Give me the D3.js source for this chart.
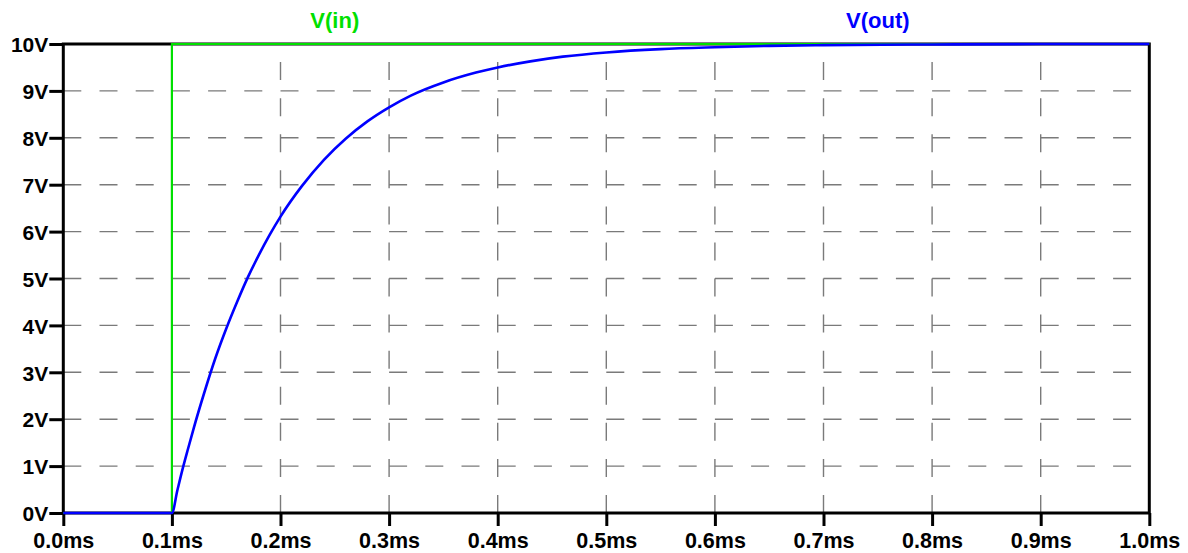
<!DOCTYPE html>
<html>
<head>
<meta charset="utf-8">
<script src="https://cdn.jsdelivr.net/npm/d3@7"></script>
<style>
  html, body { margin: 0; padding: 0; background: #fff; }
  svg { display: block; }
  text { font-family: "Liberation Sans", Arial, sans-serif; font-weight: bold; }
</style>
</head>
<body>
<svg id="chart" width="1188" height="553"></svg>
<script>
// ---- data ----
const xTicks = [0, 0.1, 0.2, 0.3, 0.4, 0.5, 0.6, 0.7, 0.8, 0.9, 1.0];
const yTicks = [0, 1, 2, 3, 4, 5, 6, 7, 8, 9, 10];
const seriesNames = ["V(in)", "V(out)"];
// V(in): step input (time in ms, volts)
const vinTime = [0, 0.1, 0.1, 1.0];
const vinVolt = [0, 0, 10, 10];
// V(out): RC response
const voutTime = [0, 0.1, 0.105, 0.11, 0.115, 0.12, 0.13, 0.14, 0.15, 0.16, 0.17, 0.18, 0.19, 0.2,
                  0.22, 0.24, 0.26, 0.28, 0.3, 0.32, 0.35, 0.38, 0.4, 0.43, 0.46, 0.5, 0.55, 0.6,
                  0.65, 0.7, 0.8, 0.9, 1.0];
const voutVolt = [0, 0, 0.48, 0.95, 1.38, 1.8, 2.58, 3.3, 3.93, 4.5, 5.03, 5.5, 5.93, 6.32,
                  6.98, 7.53, 7.98, 8.35, 8.65, 8.9, 9.18, 9.39, 9.5, 9.63, 9.73, 9.82, 9.89, 9.93,
                  9.96, 9.975, 9.99, 10, 10];

// ---- layout ----
const L = 63.3, R = 1149.3, T = 44, B = 513;
const svg = d3.select("#chart");
const x = d3.scaleLinear().domain([0, 1]).range([L, R]);
const y = d3.scaleLinear().domain([0, 10]).range([B, T]);

const gridColor = "#7a7a7a";
const green = "#00e000";
const blue = "#0000ff";

// horizontal grid lines
svg.append("g").selectAll("line")
  .data(yTicks.filter(v => v > 0 && v < 10))
  .join("line")
  .attr("x1", L).attr("x2", R)
  .attr("y1", d => y(d)).attr("y2", d => y(d))
  .attr("stroke", gridColor).attr("stroke-width", 1.4)
  .attr("stroke-dasharray", "18," + ((R - L) / 30 - 18));

// vertical grid lines (drawn from bottom to top)
svg.append("g").selectAll("line")
  .data(xTicks.filter(v => v > 0 && v < 1))
  .join("line")
  .attr("x1", d => x(d)).attr("x2", d => x(d))
  .attr("y1", B).attr("y2", T)
  .attr("stroke", gridColor).attr("stroke-width", 1.4)
  .attr("stroke-dasharray", "18," + ((B - T) / 13 - 18));

// frame
svg.append("rect")
  .attr("x", L).attr("y", T).attr("width", R - L).attr("height", B - T)
  .attr("fill", "none").attr("stroke", "#000").attr("stroke-width", 3);

// axes
const xAxis = d3.axisBottom(x).tickValues(xTicks).tickSize(13).tickFormat(d => d.toFixed(1) + "ms");
const gx = svg.append("g").attr("transform", `translate(0,${B})`).call(xAxis);
gx.select(".domain").remove();
gx.selectAll("line").attr("stroke", "#000").attr("stroke-width", 3);
gx.selectAll("text")
  .attr("y", 35).attr("dy", 0)
  .attr("fill", "#000")
  .style("font-size", "21.5px").style("font-family", "'Liberation Sans', Arial, sans-serif").style("font-weight", "bold");

const yAxis = d3.axisLeft(y).tickValues(yTicks).tickSize(14).tickFormat(d => d + "V");
const gy = svg.append("g").attr("transform", `translate(${L},0)`).call(yAxis);
gy.select(".domain").remove();
gy.selectAll("line").attr("stroke", "#000").attr("stroke-width", 3);
gy.selectAll("text")
  .attr("x", -15).attr("dy", "0.37em")
  .attr("fill", "#000")
  .style("font-size", "21px").style("font-family", "'Liberation Sans', Arial, sans-serif").style("font-weight", "bold");

// traces
const line = d3.line().x(d => x(d[0])).y(d => y(d[1]));
const vin = vinTime.map((t, i) => [t, vinVolt[i]]);
const vout = voutTime.map((t, i) => [t, voutVolt[i]]);

svg.append("path").datum(vin).attr("d", line)
  .attr("fill", "none").attr("stroke", green).attr("stroke-width", 2.2);
svg.append("path").datum(vout).attr("d", d3.line().x(d => x(d[0])).y(d => y(d[1])).curve(d3.curveMonotoneX))
  .attr("fill", "none").attr("stroke", blue).attr("stroke-width", 2.6)
  .attr("stroke-linejoin", "round");

// trace labels
const labelPos = [0.25, 0.75];
const labelColor = [green, blue];
svg.append("g").selectAll("text")
  .data(seriesNames)
  .join("text")
  .attr("x", (d, i) => x(labelPos[i]))
  .attr("y", 28)
  .attr("text-anchor", "middle")
  .attr("fill", (d, i) => labelColor[i])
  .style("font-size", "22px")
  .text(d => d);
</script>
</body>
</html>
